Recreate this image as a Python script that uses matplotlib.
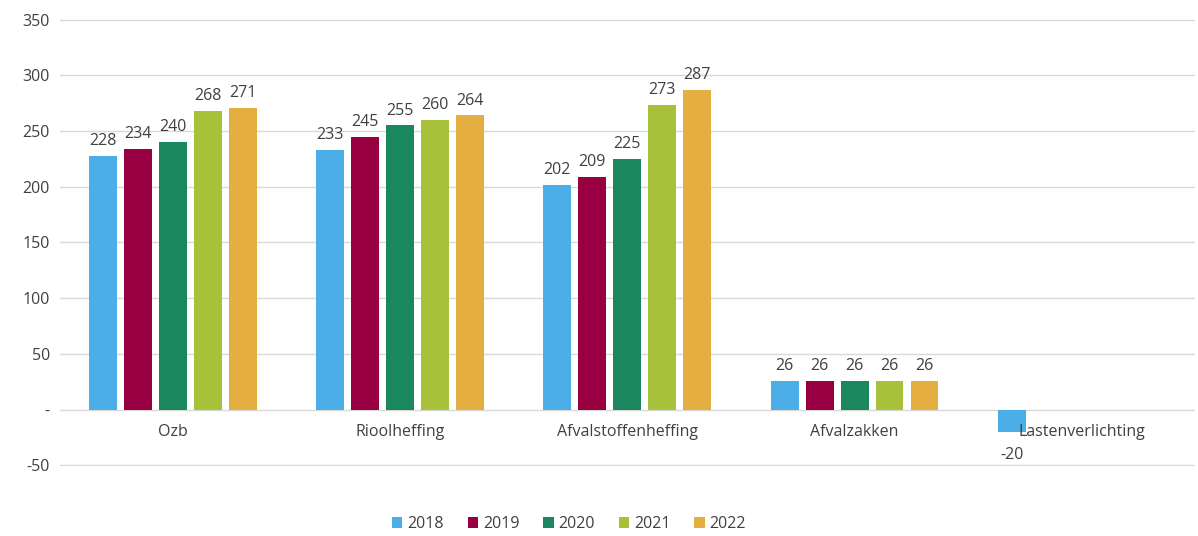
import numpy as np
import matplotlib.pyplot as plt
from matplotlib.ticker import FuncFormatter

categories = ["Ozb", "Rioolheffing", "Afvalstoffenheffing", "Afvalzakken", "Lastenverlichting"]
years = ["2018", "2019", "2020", "2021", "2022"]
values = {
    "2018": [228, 233, 202, 26, -20],
    "2019": [234, 245, 209, 26, None],
    "2020": [240, 255, 225, 26, None],
    "2021": [268, 260, 273, 26, None],
    "2022": [271, 264, 287, 26, None],
}
colors = ["#4BAEE6", "#990042", "#1B875F", "#A7C13A", "#E5AE41"]

plt.rcParams['font.family'] = ['Open Sans', 'DejaVu Sans']
txt = "#404040"
fs = 11.5


def main():
    fig = plt.figure(figsize=(11.98, 5.36), dpi=100)
    ax = fig.add_axes([0.0497, 0.1306, 0.948, 0.834])

    x = np.arange(len(categories))
    width = 0.123
    step = 0.154
    for i, (year, col) in enumerate(zip(years, colors)):
        vals = values[year]
        xs = [xi + (i - 2) * step for xi, v in zip(x, vals) if v is not None]
        vs = [v for v in vals if v is not None]
        bars = ax.bar(xs, vs, width=width, color=col, label=year, zorder=3)
        for b, v in zip(bars, vs):
            if v >= 0:
                ax.annotate(str(v), (b.get_x() + b.get_width() / 2, v),
                            xytext=(0, 5), textcoords="offset points",
                            ha="center", va="bottom", fontsize=fs, color=txt)
            else:
                ax.annotate(str(v), (b.get_x() + b.get_width() / 2, v),
                            xytext=(0, -11), textcoords="offset points",
                            ha="center", va="top", fontsize=fs, color=txt)

    ax.set_xlim(-0.5, len(categories) - 0.5)
    ax.set_ylim(-50.6, 350.6)
    ax.set_yticks(np.arange(-50, 351, 50))
    ax.yaxis.set_major_formatter(FuncFormatter(lambda v, p: "-" if v == 0 else f"{int(v)}"))
    ax.yaxis.grid(True, color="#d9d9d9", linewidth=1, zorder=0)
    ax.set_xticks([])
    ax.tick_params(axis="y", length=0, labelsize=fs, labelcolor=txt, pad=7)
    for s in ax.spines.values():
        s.set_visible(False)

    for xi, c in zip(x, categories):
        ax.annotate(c, (xi, 0), xytext=(0, -10), textcoords="offset points",
                    ha="center", va="top", fontsize=fs, color=txt, zorder=4)

    fig.legend(loc="lower center", bbox_to_anchor=(0.475, -0.02), ncol=5, frameon=False,
               fontsize=fs, handlelength=0.65, handleheight=0.65, handletextpad=0.3,
               columnspacing=1.5, labelcolor=txt)

    fig.savefig("out.png", dpi=100)


if __name__ == "__main__":
    main()
